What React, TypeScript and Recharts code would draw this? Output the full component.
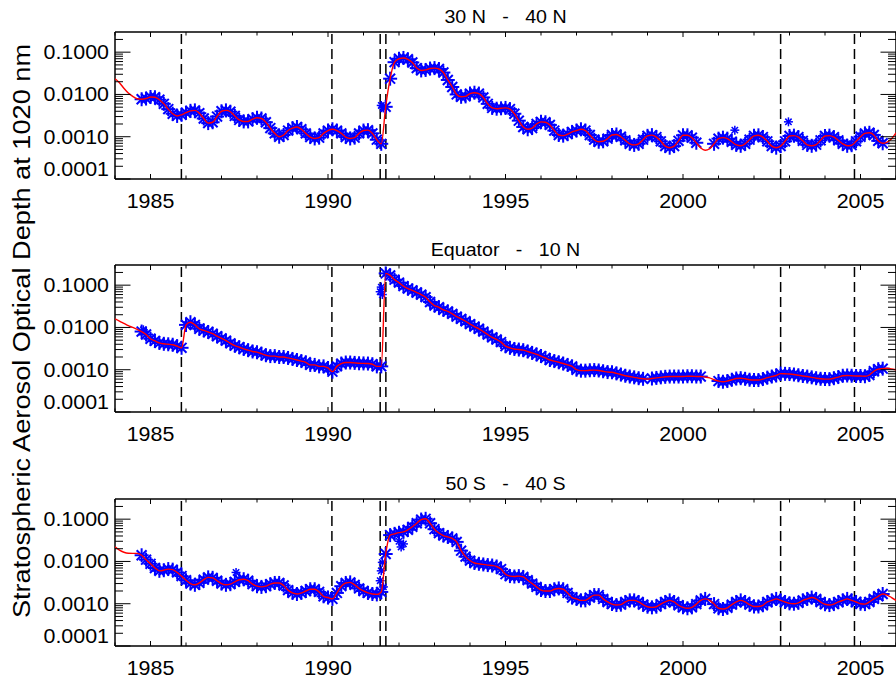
import React from 'react';
import { ComposedChart, Line, Scatter, XAxis, YAxis, ReferenceLine } from 'recharts';

// ---------------------------------------------------------------------------
// Data
// ---------------------------------------------------------------------------

const START_YEAR = 1984;
const END_YEAR = 2006;
const STEPS_PER_YEAR = 8; // model values are given every 1/8 year

// Model (red curve), 30N - 40N, 1984.000 ... 2006.000, one row per year
const model30N40N = [
  0.0236, 0.019, 0.014, 0.0108, 0.009, 0.0079, 0.0077, 0.008,
  0.0087, 0.0086, 0.0075, 0.006, 0.0045, 0.0035, 0.0031, 0.0033,
  0.0037, 0.0041, 0.0042, 0.0036, 0.0027, 0.0021, 0.0022, 0.003,
  0.004, 0.0042, 0.0039, 0.0031, 0.0025, 0.0023, 0.0023, 0.0026,
  0.0028, 0.0027, 0.0022, 0.0016, 0.0012, 0.001, 0.0011, 0.0014,
  0.0016, 0.0017, 0.0015, 0.0012, 0.00098, 0.00091, 0.00095, 0.0012,
  0.0014, 0.0015, 0.0014, 0.0012, 0.00098, 0.00091, 0.00095, 0.0012,
  0.0014, 0.00143, 0.0012, 0.00085, 0.00068, 0.0051, 0.0236, 0.058,
  0.07, 0.073, 0.068, 0.057, 0.042, 0.037, 0.038, 0.041,
  0.042, 0.04, 0.033, 0.022, 0.015, 0.01, 0.0088, 0.009,
  0.0105, 0.011, 0.0105, 0.0085, 0.006, 0.0048, 0.0046, 0.0047,
  0.0048, 0.0045, 0.0035, 0.0024, 0.0017, 0.0015, 0.0016, 0.002,
  0.00225, 0.0022, 0.0019, 0.0014, 0.0011, 0.00106, 0.00115, 0.0013,
  0.0014, 0.0015, 0.0014, 0.0011, 0.00085, 0.00076, 0.00078, 0.0009,
  0.0011, 0.00113, 0.001, 0.00082, 0.00068, 0.00064, 0.00068, 0.00085,
  0.00105, 0.00109, 0.00098, 0.00078, 0.0006, 0.00055, 0.0006, 0.0008,
  0.00108, 0.00108, 0.00095, 0.00072, 0.00054, 0.00048, 0.00052, 0.00068,
  0.0009, 0.00095, 0.0009, 0.00076, 0.00064, 0.00061, 0.00068, 0.00085,
  0.00105, 0.00108, 0.00098, 0.00078, 0.0006, 0.00055, 0.0006, 0.00078,
  0.00104, 0.00106, 0.00098, 0.0008, 0.00064, 0.00061, 0.00065, 0.00082,
  0.00104, 0.00106, 0.00098, 0.00082, 0.00068, 0.00061, 0.00063, 0.00078,
  0.001, 0.0012, 0.00124, 0.0011, 0.0008, 0.0007, 0.00075, 0.0009,
  0.00124,
];

// Model (red curve), Equator - 10N
const modelEq10N = [
  0.016, 0.0142, 0.0125, 0.011, 0.01, 0.009, 0.008, 0.0068,
  0.0054, 0.0048, 0.0043, 0.0041, 0.004, 0.0039, 0.0036, 0.0033,
  0.0115, 0.0133, 0.0115, 0.0093, 0.0085, 0.0078, 0.0071, 0.0062,
  0.0055, 0.0049, 0.0042, 0.0037, 0.0034, 0.0031, 0.0029, 0.0027,
  0.0026, 0.0024, 0.0022, 0.0021, 0.0021, 0.002, 0.002, 0.0019,
  0.0018, 0.0017, 0.0016, 0.0015, 0.0013, 0.0013, 0.0012, 0.0012,
  0.0011, 0.0009, 0.0012, 0.0014, 0.00148, 0.00148, 0.00145, 0.00142,
  0.00141, 0.0014, 0.00135, 0.0012, 0.0012, 0.19, 0.17, 0.135,
  0.115, 0.095, 0.083, 0.075, 0.067, 0.06, 0.052, 0.04,
  0.033, 0.03, 0.026, 0.024, 0.021, 0.018, 0.016, 0.014,
  0.012, 0.0105, 0.0093, 0.008, 0.0068, 0.0058, 0.0052, 0.0045,
  0.0036, 0.0033, 0.0031, 0.003, 0.0029, 0.0027, 0.0025, 0.0023,
  0.0021, 0.0019, 0.0017, 0.0016, 0.0015, 0.0014, 0.0013, 0.0012,
  0.001, 0.00095, 0.00095, 0.00097, 0.00098, 0.00096, 0.00092, 0.00088,
  0.00087, 0.00082, 0.00077, 0.00072, 0.00069, 0.00066, 0.00063, 0.00061,
  0.0006, 0.00062, 0.00064, 0.00066, 0.00068, 0.00069, 0.00069, 0.00069,
  0.00069, 0.0007, 0.0007, 0.00069, 0.00069, 0.00067, 0.00064, 0.00058,
  0.00054, 0.00052, 0.00054, 0.00058, 0.00062, 0.00063, 0.00061, 0.00058,
  0.00057, 0.00057, 0.0006, 0.00065, 0.00069, 0.00073, 0.00081, 0.0008,
  0.00079, 0.00077, 0.00074, 0.00071, 0.00069, 0.00066, 0.00063, 0.00061,
  0.0006, 0.0006, 0.00063, 0.00067, 0.00072, 0.00073, 0.00072, 0.00071,
  0.00071, 0.0007, 0.00075, 0.00092, 0.00103, 0.00106, 0.00108, 0.00104,
  0.001,
];

// Model (red curve), 50S - 40S
const model50S40S = [
  0.0222, 0.0185, 0.0165, 0.0156, 0.0155, 0.0155, 0.014, 0.011,
  0.0088, 0.007, 0.006, 0.0062, 0.0066, 0.0064, 0.0055, 0.0045,
  0.0036, 0.003, 0.0028, 0.0031, 0.0037, 0.0042, 0.0041, 0.0035,
  0.003, 0.0028, 0.0029, 0.0033, 0.0037, 0.0038, 0.0035, 0.0029,
  0.0026, 0.0025, 0.0026, 0.0029, 0.0031, 0.0031, 0.0027, 0.0021,
  0.0018, 0.0017, 0.0018, 0.002, 0.0022, 0.0022, 0.0019, 0.0015,
  0.0014, 0.0013, 0.0018, 0.0026, 0.0031, 0.0032, 0.0028, 0.0023,
  0.002, 0.0018, 0.0017, 0.00166, 0.0019, 0.015, 0.042, 0.045,
  0.048, 0.05, 0.056, 0.066, 0.08, 0.098, 0.102, 0.08,
  0.058, 0.047, 0.041, 0.038, 0.035, 0.029, 0.018, 0.013,
  0.0105, 0.0092, 0.0088, 0.0085, 0.0082, 0.008, 0.0076, 0.0066,
  0.005, 0.0045, 0.0044, 0.0045, 0.0043, 0.0036, 0.003, 0.0025,
  0.0021, 0.002, 0.002, 0.0022, 0.0023, 0.0022, 0.0018, 0.0014,
  0.0013, 0.0012, 0.0012, 0.0014, 0.0016, 0.0016, 0.0013, 0.0011,
  0.00098, 0.00093, 0.00095, 0.0011, 0.0012, 0.0012, 0.0011, 0.00095,
  0.00085, 0.00082, 0.00085, 0.00098, 0.0011, 0.0012, 0.0011, 0.00092,
  0.00082, 0.00078, 0.00082, 0.00098, 0.0012, 0.0013, 0.0012, 0.00098,
  0.00078, 0.00075, 0.0008, 0.00095, 0.0011, 0.0012, 0.0011, 0.00095,
  0.00086, 0.00086, 0.00092, 0.0011, 0.0012, 0.0013, 0.0012, 0.0011,
  0.00102, 0.001, 0.00105, 0.0012, 0.0013, 0.0014, 0.0013, 0.0011,
  0.00097, 0.00093, 0.00098, 0.0011, 0.0012, 0.0013, 0.0012, 0.0011,
  0.001, 0.00098, 0.0011, 0.0013, 0.0015, 0.0017, 0.0016, 0.0014,
  0.0012,
];

// Periods with satellite observations (blue asterisks follow the model there)
const obsSpans30N40N = [[1984.75, 2000.375], [2000.875, 2005.625]];
const obsSpansEq10N = [[1984.75, 1998.875], [1999.125, 2000.5], [2001.0, 2005.625]];
const obsSpans50S40S = [[1984.75, 2000.625], [2000.875, 2005.625]];

// Observations that stand apart from the model curve: [year, optical depth]
const obsExtra30N40N = [[1991.5, 0.0055], [1991.56, 0.0048], [2001.46, 0.00143], [2002.97, 0.00225]];
const obsExtraEq10N = [[1984.8, 0.0088], [1991.47, 0.07], [1991.5, 0.09], [1991.53, 0.06]];
const obsExtra50S40S = [
  [1987.41, 0.0055], [1991.47, 0.0035], [1991.5, 0.006], [1991.53, 0.0095],
  [1991.56, 0.0025], [1992.0, 0.03], [1992.06, 0.022], [1992.125, 0.026],
];

// Dashed markers (volcanic eruptions)
const eventYears = [1985.87, 1990.11, 1991.47, 1991.63, 2002.75, 2004.83];

const panelTitles = ['30 N   -   40 N', 'Equator   -   10 N', '50 S   -   40 S'];
const yTitle = 'Stratospheric Aerosol Optical Depth at 1020 nm';

const yearTicks = [
  1984, 1985, 1986, 1987, 1988, 1989, 1990, 1991, 1992, 1993, 1994, 1995,
  1996, 1997, 1998, 1999, 2000, 2001, 2002, 2003, 2004, 2005, 2006,
];
const labeledYears = [1985, 1990, 1995, 2000, 2005];

const OD_MIN = 0.0001;
const OD_MAX = 0.3;
const odMajor = [0.0001, 0.001, 0.01, 0.1];
const odMajorLabels = ['0.0001', '0.0010', '0.0100', '0.1000'];
const odMinor = [
  0.0002, 0.0003, 0.0004, 0.0005, 0.0006, 0.0007, 0.0008, 0.0009,
  0.002, 0.003, 0.004, 0.005, 0.006, 0.007, 0.008, 0.009,
  0.02, 0.03, 0.04, 0.05, 0.06, 0.07, 0.08, 0.09,
  0.2,
];

// ---------------------------------------------------------------------------
// Layout
// ---------------------------------------------------------------------------

const FONT = '"Liberation Sans", Arial, Helvetica, sans-serif';
const WIDEN = 1.11; // glyphs are a little wider than Arial
const CHART_W = 900;
const PLOT_LEFT = 115;
const PLOT_RIGHT = 896;
const PLOT_H = 147;
const MARGIN_TOP = 5;
const XAXIS_H = 42;
const CHART_H = MARGIN_TOP + PLOT_H + XAXIS_H;
const PANEL_TOPS = [31.5, 265, 498.5];

type Pair = number[];

interface PanelSpec {
  title: string;
  model: number[];
  spans: Pair[];
  extras: Pair[];
}

const panels: PanelSpec[] = [
  { title: panelTitles[0], model: model30N40N, spans: obsSpans30N40N, extras: obsExtra30N40N },
  { title: panelTitles[1], model: modelEq10N, spans: obsSpansEq10N, extras: obsExtraEq10N },
  { title: panelTitles[2], model: model50S40S, spans: obsSpans50S40S, extras: obsExtra50S40S },
];

function buildRows(model: number[]) {
  return model.map((v, i) => ({ x: START_YEAR + i / STEPS_PER_YEAR, model: v }));
}

function buildObs(model: number[], spans: Pair[]) {
  const pts: { x: number; obs: number }[] = [];
  model.forEach((v, i) => {
    const yr = START_YEAR + i / STEPS_PER_YEAR;
    if (spans.some(([a, b]) => yr >= a - 1e-6 && yr <= b + 1e-6)) pts.push({ x: yr, obs: v });
  });
  return pts;
}

function WideText(props: {
  x: number; y: number; anchor: 'start' | 'middle' | 'end'; size: number; rotate?: number; children: React.ReactNode;
}) {
  const { x, y, anchor, size, rotate = 0, children } = props;
  return (
    <text
      transform={`translate(${x},${y}) rotate(${rotate}) scale(${WIDEN},1)`}
      x={0}
      y={0}
      textAnchor={anchor}
      fontFamily={FONT}
      fontSize={size}
      fill="#000"
      style={{ whiteSpace: 'pre' }}
    >
      {children}
    </text>
  );
}

// Asterisk marker for the observations
function Asterisk(props: any) {
  const { cx, cy, r, w } = props;
  if (cx == null || cy == null || Number.isNaN(cx) || Number.isNaN(cy)) return <g />;
  const d = r * 0.7071;
  return (
    <g stroke="#0000ff" strokeWidth={w}>
      <line x1={cx - r} y1={cy} x2={cx + r} y2={cy} />
      <line x1={cx} y1={cy - r} x2={cx} y2={cy + r} />
      <line x1={cx - d} y1={cy - d} x2={cx + d} y2={cy + d} />
      <line x1={cx - d} y1={cy + d} x2={cx + d} y2={cy - d} />
    </g>
  );
}

// Optical depth ticks: drawn inward on both the left and right frame edges
function OdTick(props: any) {
  const { y, payload } = props;
  const v = payload.value as number;
  const idx = odMajor.findIndex((m) => Math.abs(m - v) < v * 1e-6);
  const major = idx >= 0;
  const len = major ? 15.5 : 8;
  const isBottom = idx === 0;
  return (
    <g>
      <line x1={PLOT_LEFT} x2={PLOT_LEFT + len} y1={y} y2={y} stroke="#000" strokeWidth={1} />
      <line x1={PLOT_RIGHT - len} x2={PLOT_RIGHT} y1={y} y2={y} stroke="#000" strokeWidth={1} />
      {major && (
        <WideText x={PLOT_LEFT - 6} y={isBottom ? y - 3 : y + 7} anchor="end" size={19.3}>
          {odMajorLabels[idx]}
        </WideText>
      )}
    </g>
  );
}

// Year ticks: drawn inward on both the bottom and top frame edges
function YearTick(props: any) {
  const { x, payload } = props;
  const yr = payload.value as number;
  const major = labeledYears.includes(yr);
  const len = major ? 5 : 3.5;
  const bottom = MARGIN_TOP + PLOT_H;
  const top = MARGIN_TOP;
  return (
    <g>
      <line x1={x} x2={x} y1={bottom} y2={bottom - len} stroke="#000" strokeWidth={1} />
      <line x1={x} x2={x} y1={top} y2={top + len} stroke="#000" strokeWidth={1} />
      {major && (
        <WideText x={x} y={bottom + 28.7} anchor="middle" size={19.3}>
          {String(yr)}
        </WideText>
      )}
    </g>
  );
}

function Panel({ spec, top }: { spec: PanelSpec; top: number }) {
  const rows = buildRows(spec.model);
  const obs = buildObs(spec.model, spec.spans);
  const extras = spec.extras.map(([x, v]) => ({ x, obs: v }));
  return (
    <div style={{ position: 'absolute', left: 0, top: top - MARGIN_TOP, width: CHART_W, height: CHART_H }}>
      <ComposedChart
        width={CHART_W}
        height={CHART_H}
        data={rows}
        margin={{ top: MARGIN_TOP, right: CHART_W - PLOT_RIGHT, bottom: 0, left: 0 }}
      >
        <XAxis
          type="number"
          dataKey="x"
          domain={[START_YEAR, END_YEAR]}
          allowDataOverflow
          ticks={yearTicks}
          interval={0}
          height={XAXIS_H}
          tickSize={0}
          tickMargin={0}
          tickLine={false}
          axisLine={{ stroke: '#000', strokeWidth: 1.5 }}
          tick={(p: any) => <YearTick {...p} />}
        />
        <YAxis
          type="number"
          scale="log"
          domain={[OD_MIN, OD_MAX]}
          allowDataOverflow
          ticks={[...odMajor, ...odMinor]}
          interval={0}
          width={PLOT_LEFT}
          tickSize={0}
          tickMargin={0}
          tickLine={false}
          axisLine={{ stroke: '#000', strokeWidth: 1.5 }}
          tick={(p: any) => <OdTick {...p} />}
        />
        <Scatter
          data={obs}
          dataKey="obs"
          shape={(p: any) => <Asterisk {...p} r={7} w={2} />}
          isAnimationActive={false}
        />
        <Scatter
          data={extras}
          dataKey="obs"
          shape={(p: any) => <Asterisk {...p} r={4.5} w={1.5} />}
          isAnimationActive={false}
        />
        <Line
          dataKey="model"
          type="monotone"
          stroke="#ff0000"
          strokeWidth={1.4}
          dot={false}
          activeDot={false}
          isAnimationActive={false}
          zIndex={700}
        />
        {eventYears.map((yr) => (
          <ReferenceLine key={yr} x={yr} stroke="#000" strokeWidth={1.5} strokeDasharray="10 5" />
        ))}
        <ReferenceLine y={OD_MAX} stroke="#000" strokeWidth={1.5} />
        <ReferenceLine x={END_YEAR} stroke="#000" strokeWidth={1.5} />
      </ComposedChart>
    </div>
  );
}

export default function App() {
  return (
    <div
      style={{
        position: 'absolute',
        left: 0,
        top: 0,
        width: 896,
        height: 677,
        overflow: 'hidden',
        background: '#fff',
      }}
    >
      {panels.map((spec, i) => (
        <Panel key={spec.title} spec={spec} top={PANEL_TOPS[i]} />
      ))}
      <svg
        width={896}
        height={677}
        style={{ position: 'absolute', left: 0, top: 0, pointerEvents: 'none' }}
      >
        {panels.map((spec, i) => (
          <WideText key={spec.title} x={(PLOT_LEFT + PLOT_RIGHT) / 2} y={PANEL_TOPS[i] - 9} anchor="middle" size={17.7}>
            {spec.title}
          </WideText>
        ))}
        <WideText x={29.5} y={331} anchor="middle" size={24.5} rotate={-90}>
          {yTitle}
        </WideText>
      </svg>
    </div>
  );
}
